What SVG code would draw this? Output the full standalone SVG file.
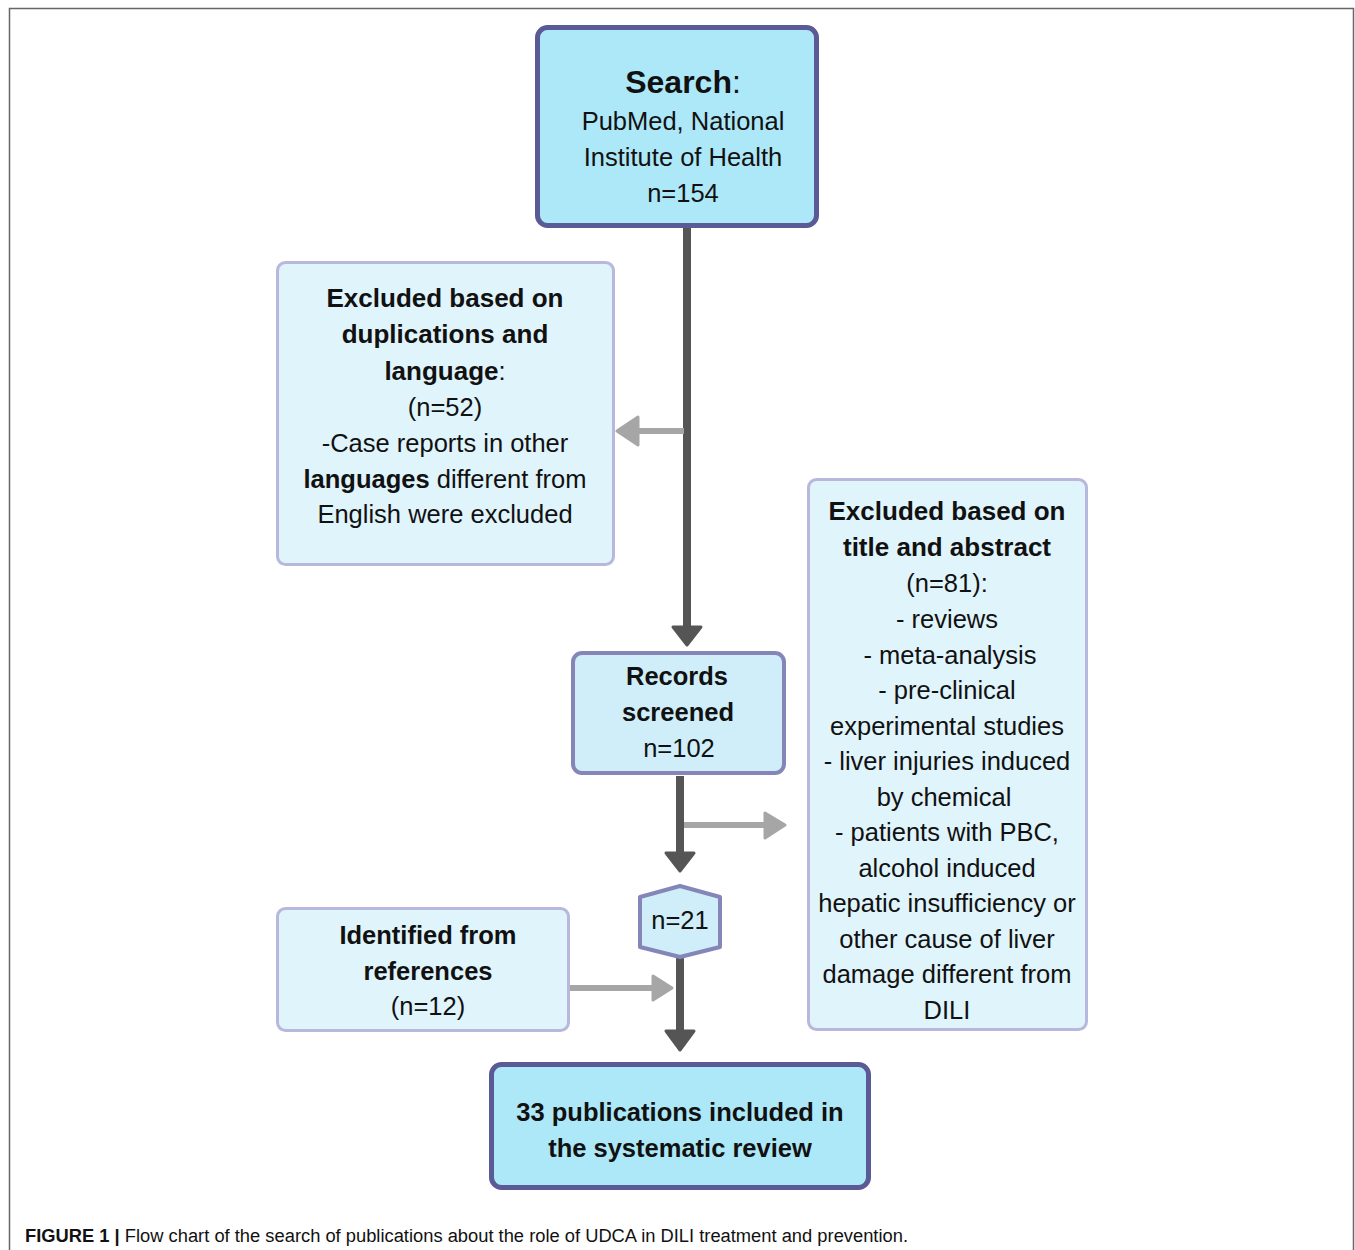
<svg xmlns="http://www.w3.org/2000/svg" width="1355" height="1250" viewBox="0 0 1355 1250">
<style>
.t{font-family:"Liberation Sans",Arial,sans-serif;font-size:25.5px;fill:#111;text-anchor:middle}
.b{font-weight:bold}
.e{font-size:26px}
.main{fill:#ade8f8;stroke:#5a5a96;stroke-width:5}
.mid{fill:#cfeefa;stroke:#8585b8;stroke-width:4}
.side{fill:#e0f4fc;stroke:#b8b8dc;stroke-width:3}
.dk{stroke:#555;stroke-width:8;fill:none}
.dkh{fill:#555;stroke:#555;stroke-width:3;stroke-linejoin:round}
.gr{stroke:#a6a6a6;stroke-width:6;fill:none}
.grh{fill:#a6a6a6;stroke:#a6a6a6;stroke-width:3;stroke-linejoin:round}
</style>
<rect width="1355" height="1250" fill="#fff"/>
<path d="M9.5,1250 V8.5 H1353.5 V1250" fill="none" stroke="#666" stroke-width="1.5"/>
<g id="connectors">
<line class="dk" x1="687" y1="228" x2="687" y2="628"/>
<polygon class="dkh" points="673,627 701,627 687,645"/>
<line class="gr" x1="684" y1="431" x2="636" y2="431"/>
<polygon class="grh" points="638,417 638,445 617,431"/>
<line class="dk" x1="680" y1="776" x2="680" y2="854"/>
<polygon class="dkh" points="666,853 694,853 680,871"/>
<line class="gr" x1="684" y1="825" x2="766" y2="825"/>
<polygon class="grh" points="765,813 765,838 785,825"/>
<line class="dk" x1="680" y1="957" x2="680" y2="1032"/>
<polygon class="dkh" points="666,1031 694,1031 680,1050"/>
<line class="gr" x1="570" y1="988" x2="654" y2="988"/>
<polygon class="grh" points="653,976 653,1000 672,988"/>
</g>
<g id="search">
<rect class="main" x="537.5" y="27.5" width="279" height="198" rx="10"/>
<text class="t" x="683" y="93" style="font-size:32px"><tspan class="b">Search</tspan>:</text>
<text class="t" x="683" y="130">PubMed, National</text>
<text class="t" x="683" y="166">Institute of Health</text>
<text class="t" x="683" y="202">n=154</text>
</g>
<g id="excluded-dup">
<rect class="side" x="277.5" y="262.5" width="336" height="302" rx="8"/>
<text class="t b e" x="445" y="307">Excluded based on</text>
<text class="t b e" x="445" y="343">duplications and</text>
<text class="t" x="445" y="380"><tspan class="b e">language</tspan>:</text>
<text class="t" x="445" y="416">(n=52)</text>
<text class="t" x="445" y="452">-Case reports in other</text>
<text class="t" x="445" y="488"><tspan class="b">languages</tspan> different from</text>
<text class="t" x="445" y="523">English were excluded</text>
</g>
<g id="records">
<rect class="mid" x="573" y="653" width="211" height="120" rx="9"/>
<text class="t b" x="677" y="685">Records</text>
<text class="t b" x="678" y="721">screened</text>
<text class="t" x="679" y="757">n=102</text>
</g>
<g id="excluded-title">
<rect class="side" x="808.5" y="479.5" width="278" height="550" rx="8"/>
<text class="t b e" x="947" y="520">Excluded based on</text>
<text class="t b e" x="947" y="556">title and abstract</text>
<text class="t" x="947" y="592">(n=81):</text>
<text class="t" x="947" y="628">- reviews</text>
<text class="t" x="950" y="664">- meta-analysis</text>
<text class="t" x="947" y="699">- pre-clinical</text>
<text class="t" x="947" y="735">experimental studies</text>
<text class="t" x="947" y="770">- liver injuries induced</text>
<text class="t" x="944" y="806">by chemical</text>
<text class="t" x="947" y="841">- patients with PBC,</text>
<text class="t" x="947" y="877">alcohol induced</text>
<text class="t" x="947" y="912">hepatic insufficiency or</text>
<text class="t" x="947" y="948">other cause of liver</text>
<text class="t" x="947" y="983">damage different from</text>
<text class="t" x="947" y="1019">DILI</text>
</g>
<g id="n21">
<polygon class="mid" points="680,886 720,897 720,947 680,957 640,947 640,897" stroke-linejoin="round"/>
<text class="t" x="680" y="929">n=21</text>
</g>
<g id="identified">
<rect class="side" x="277.5" y="908.5" width="291" height="122" rx="8"/>
<text class="t b" x="428" y="944">Identified from</text>
<text class="t b" x="428" y="980">references</text>
<text class="t" x="428" y="1015">(n=12)</text>
</g>
<g id="included">
<rect class="main" x="491.5" y="1064.5" width="377" height="123" rx="10"/>
<text class="t b" x="680" y="1121">33 publications included in</text>
<text class="t b" x="680" y="1157">the systematic review</text>
</g>
<text x="25" y="1242" style="font-family:'Liberation Sans',Arial,sans-serif;font-size:18px;fill:#111" textLength="883" lengthAdjust="spacingAndGlyphs"><tspan font-weight="bold">FIGURE 1 |</tspan> Flow chart of the search of publications about the role of UDCA in DILI treatment and prevention.</text>
</svg>
